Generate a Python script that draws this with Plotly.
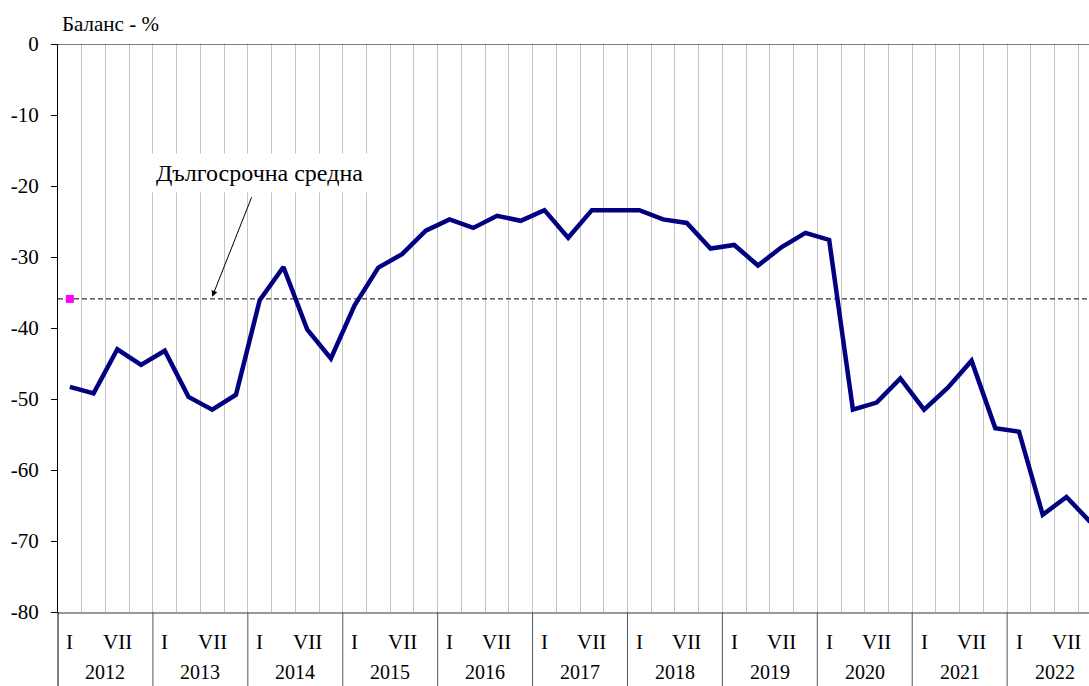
import plotly.graph_objects as go

years = ["2012", "2013", "2014", "2015", "2016", "2017", "2018", "2019", "2020", "2021", "2022"]
quarter_labels = ["I", "", "VII", ""]
balance = [
    -48.3, -49.2, -43.0, -45.2,
    -43.2, -49.7, -51.5, -49.4,
    -36.1, -31.4, -40.2, -44.3,
    -36.8, -31.5, -29.6, -26.3,
    -24.7, -25.9, -24.2, -24.9,
    -23.4, -27.3, -23.4, -23.4,
    -23.4, -24.7, -25.2, -28.8,
    -28.3, -31.2, -28.6, -26.6,
    -27.6, -51.5, -50.5, -47.1,
    -51.5, -48.4, -44.6, -54.1,
    -54.6, -66.3, -63.8, -67.3,
]
long_term_avg = -35.9
avg_label = "Дългосрочна средна"
y_title = "Баланс - %"
y_ticks = [0, -10, -20, -30, -40, -50, -60, -70, -80]
y_ticktext = ["0", "-10", "-20", "-30", "-40", "-50", "-60", "-70", "-80"]

n = len(balance)
idx = list(range(n))
FONT = "'Liberation Serif', 'Times New Roman', 'DejaVu Serif', serif"

fig = go.Figure()
fig.add_trace(go.Scatter(
    x=[-0.5, n + 1], y=[long_term_avg, long_term_avg], mode="lines",
    line=dict(color="black", width=1, dash="5px,3px"), hoverinfo="skip", showlegend=False,
))
fig.add_trace(go.Scatter(
    x=[0], y=[long_term_avg], mode="markers",
    marker=dict(symbol="square", color="#ff00ff", size=8), showlegend=False,
))
fig.add_trace(go.Scatter(
    x=idx, y=balance, mode="lines",
    line=dict(color="#000080", width=4.5), showlegend=False,
))

shapes = []
shapes.append(dict(type="line", xref="paper", yref="y", x0=0, x1=1, y0=0, y1=0,
                   line=dict(color="black", width=1)))
shapes.append(dict(type="line", xref="paper", yref="paper", x0=0, x1=0, y0=0, y1=-0.2,
                   line=dict(color="black", width=1)))
for k in range(1, len(years)):
    shapes.append(dict(type="line", xref="x", yref="paper", x0=4 * k - 0.5, x1=4 * k - 0.5,
                       y0=0, y1=-0.2, line=dict(color="#555555", width=1)))

annotations = []
for k, yr in enumerate(years):
    annotations.append(dict(x=4 * k + 1.5, y=-0.105, xref="x", yref="paper", text=yr,
                            showarrow=False, font=dict(family=FONT, size=20, color="black"),
                            yanchor="middle"))
    for q, ql in enumerate(quarter_labels):
        if ql:
            annotations.append(dict(x=4 * k + q, y=-0.053, xref="x", yref="paper", text=ql,
                                    showarrow=False, font=dict(family=FONT, size=21, color="black"),
                                    yanchor="middle"))
annotations.append(dict(x=0, y=1.035, xref="paper", yref="paper", text=y_title, xshift=2,
                        xanchor="left", yanchor="middle", showarrow=False,
                        font=dict(family=FONT, size=21, color="black")))
annotations.append(dict(x=8.0, y=-18.2, xref="x", yref="y", text=avg_label, showarrow=False,
                        bgcolor="white", borderpad=6,
                        font=dict(family=FONT, size=24, color="black")))
annotations.append(dict(x=6.0, y=-35.6, xref="x", yref="y", text="", showarrow=True,
                        ax=40, ay=-101, arrowhead=2, arrowsize=1.2, arrowwidth=1,
                        arrowcolor="black"))

fig.update_layout(
    width=1089, height=686,
    margin=dict(l=58, r=0, t=44, b=74),
    plot_bgcolor="white", paper_bgcolor="white",
    font=dict(family=FONT, color="black"),
    shapes=shapes, annotations=annotations,
    xaxis=dict(range=[-0.5, 42.95], tickvals=[i + 0.5 for i in range(n - 1)],
               showticklabels=False, ticks="", showgrid=True, gridcolor="#c4c4c4", gridwidth=1,
               zeroline=False, showline=True, linecolor="#999999", linewidth=1.5),
    yaxis=dict(range=[-80, 0], tickvals=y_ticks, ticktext=y_ticktext, showgrid=False,
               zeroline=False, showline=True, linecolor="black", linewidth=1,
               ticks="outside", ticklen=6, tickcolor="black", ticklabelstandoff=8,
               tickfont=dict(family=FONT, size=21, color="black")),
)

fig.write_html("out.html", config={"displayModeBar": False},
               post_script="document.body.style.margin='0';document.body.style.overflow='hidden';")
